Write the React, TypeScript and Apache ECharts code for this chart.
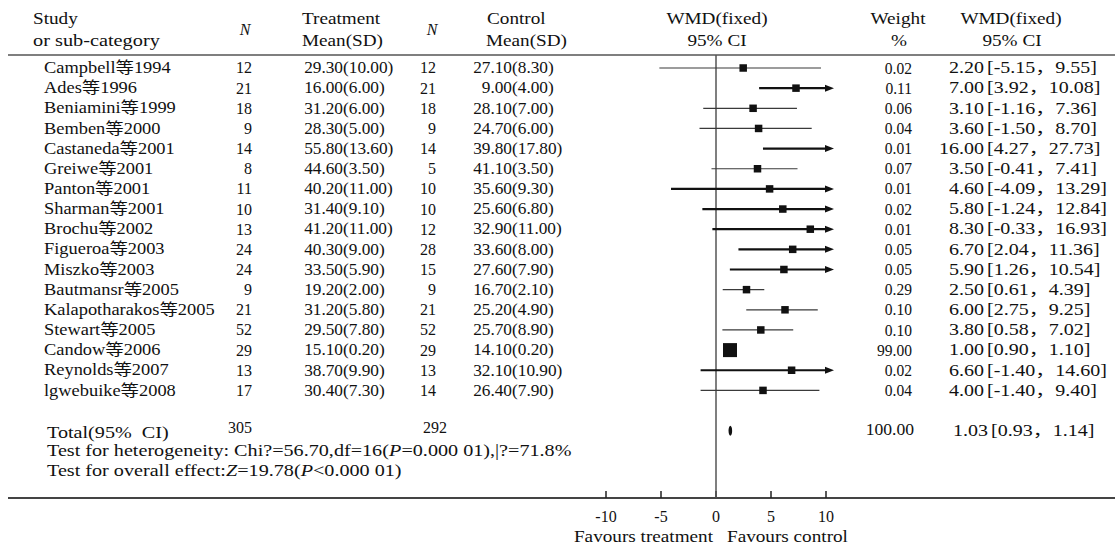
import React, { useEffect, useRef } from "react";
import * as echarts from "echarts";

const studies = [
  "Campbell等1994", "Ades等1996", "Beniamini等1999", "Bemben等2000", "Castaneda等2001",
  "Greiwe等2001", "Panton等2001", "Sharman等2001", "Brochu等2002", "Figueroa等2003",
  "Miszko等2003", "Bautmansr等2005", "Kalapotharakos等2005", "Stewart等2005",
  "Candow等2006", "Reynolds等2007", "lgwebuike等2008",
];
const nTreat = [12, 21, 18, 9, 14, 8, 11, 10, 13, 24, 24, 9, 21, 52, 29, 13, 17];
const meanTreat = [29.3, 16.0, 31.2, 28.3, 55.8, 44.6, 40.2, 31.4, 41.2, 40.3, 33.5, 19.2, 31.2, 29.5, 15.1, 38.7, 30.4];
const sdTreat = [10.0, 6.0, 6.0, 5.0, 13.6, 3.5, 11.0, 9.1, 11.0, 9.0, 5.9, 2.0, 5.8, 7.8, 0.2, 9.9, 7.3];
const nCtrl = [12, 21, 18, 9, 14, 5, 10, 10, 12, 28, 15, 9, 21, 52, 29, 13, 14];
const meanCtrl = [27.1, 9.0, 28.1, 24.7, 39.8, 41.1, 35.6, 25.6, 32.9, 33.6, 27.6, 16.7, 25.2, 25.7, 14.1, 32.1, 26.4];
const sdCtrl = [8.3, 4.0, 7.0, 6.0, 17.8, 3.5, 9.3, 6.8, 11.0, 8.0, 7.9, 2.1, 4.9, 8.9, 0.2, 10.9, 7.9];
const weights = [0.02, 0.11, 0.06, 0.04, 0.01, 0.07, 0.01, 0.02, 0.01, 0.05, 0.05, 0.29, 0.10, 0.10, 99.0, 0.02, 0.04];
const wmd = [2.2, 7.0, 3.1, 3.6, 16.0, 3.5, 4.6, 5.8, 8.3, 6.7, 5.9, 2.5, 6.0, 3.8, 1.0, 6.6, 4.0];
const ciLow = [-5.15, 3.92, -1.16, -1.5, 4.27, -0.41, -4.09, -1.24, -0.33, 2.04, 1.26, 0.61, 2.75, 0.58, 0.9, -1.4, -1.4];
const ciHigh = [9.55, 10.08, 7.36, 8.7, 27.73, 7.41, 13.29, 12.84, 16.93, 11.36, 10.54, 4.39, 9.25, 7.02, 1.1, 14.6, 9.4];

const totalLabel = "Total(95%  CI)";
const totalN = [305, 292];
const totalWeight = 100.0;
const totalWmd = [1.03, 0.93, 1.14];
const hetText = ["Test for heterogeneity: Chi?=56.70,df=16(", "P", "=0.000 01),|?=71.8%"];
const overallText = ["Test for overall effect:", "Z", "=19.78(", "P", "<0.000 01)"];
const xMin = -10;
const xMax = 10;
const xInterval = 5;
const favours = ["Favours treatment", "Favours control"];

const FAMILY = "'Liberation Serif', 'Times New Roman', 'Noto Sans CJK SC', serif";
const FS = 16;
const INK = "#111";
const SX_HEAD = 1.2;
const SX_NAME = 1.15;
const SX_NUM = 1.0;
const SX_MEAN = 1.08;
const SX_W = 0.97;
const SX_CI = 1.25;
const SX_FOOT = 1.26;
const SX_FAV = 1.2;
const font = (size: number, italic = false) => `${italic ? "italic " : ""}${size}px ${FAMILY}`;

function txt(x: number, y: number, text: string, align: string, opt: any = {}) {
  return {
    type: "text",
    x,
    y,
    scaleX: opt.sx ?? 1,
    silent: true,
    style: {
      text,
      x: 0,
      y: 0,
      fill: opt.fill ?? INK,
      font: font(opt.fs ?? FS, !!opt.italic),
      fontSize: opt.fs ?? FS,
      fontFamily: FAMILY,
      fontStyle: opt.italic ? "italic" : "normal",
      align,
      verticalAlign: "middle",
      rich: opt.rich,
    },
  };
}

const ci = (lo: number, hi: number) => `[${lo.toFixed(2)}，${hi.toFixed(2)}]`;

export default function App() {
  const ref = useRef<HTMLDivElement>(null);
  useEffect(() => {
    const chart = echarts.init(ref.current!, null, { renderer: "svg" });
    const rich = {
      i: { font: font(FS, true), fontStyle: "italic", fontFamily: FAMILY, fontSize: FS, fill: INK },
      n: { font: font(FS), fontFamily: FAMILY, fontSize: FS, fill: INK },
    };
    const option: any = {
      animation: false,
      backgroundColor: "#fff",
      textStyle: { fontFamily: FAMILY, color: INK },
      grid: { left: 606, width: 220, top: 55, height: 443 },
      xAxis: {
        type: "value",
        min: xMin,
        max: xMax,
        interval: xInterval,
        axisLine: { show: true, onZero: false, lineStyle: { color: "#444", width: 2 } },
        axisTick: { show: true, inside: true, length: 7, lineStyle: { color: "#222", width: 1.5 } },
        axisLabel: { margin: 10, fontSize: FS, color: INK, fontFamily: FAMILY },
        splitLine: { show: false },
      },
      yAxis: {
        type: "value",
        inverse: true,
        min: -0.645,
        max: 21.34,
        show: false,
      },
      graphic: [
        { type: "line", shape: { x1: 8, y1: 55, x2: 1115, y2: 55 }, style: { stroke: "#555", lineWidth: 1.5 } },
        { type: "line", shape: { x1: 8, y1: 498, x2: 1115, y2: 498 }, style: { stroke: "#444", lineWidth: 2 } },
        txt(33, 19, "Study", "left", { sx: SX_HEAD }),
        txt(33, 41, "or sub-category", "left", { sx: 1.27 }),
        txt(245, 29, "N", "center", { italic: true }),
        txt(302, 19, "Treatment", "left", { sx: SX_HEAD }),
        txt(302, 41, "Mean(SD)", "left", { sx: SX_HEAD }),
        txt(432, 29, "N", "center", { italic: true }),
        txt(487, 19, "Control", "left", { sx: SX_HEAD }),
        txt(486, 41, "Mean(SD)", "left", { sx: SX_HEAD }),
        txt(717, 19, "WMD(fixed)", "center", { sx: SX_HEAD }),
        txt(717, 41, "95% CI", "center", { sx: SX_HEAD }),
        txt(898, 19, "Weight", "center", { sx: SX_HEAD }),
        txt(899, 41, "%", "center", { sx: SX_HEAD }),
        txt(1011, 19, "WMD(fixed)", "center", { sx: SX_HEAD }),
        txt(1012, 41, "95% CI", "center", { sx: SX_HEAD }),
        txt(713, 537, favours[0], "right", { sx: SX_FAV }),
        txt(727, 537, favours[1], "left", { sx: SX_FAV }),
      ],
      series: [
        {
          type: "custom",
          clip: false,
          silent: true,
          z: 5,
          data: studies.map((_, i) => [wmd[i], i, ciLow[i], ciHigh[i]]),
          encode: { x: [0, 2, 3], y: 1 },
          renderItem: (params: any, api: any) => {
            const i = params.dataIndex;
            const y = api.coord([0, i])[1];
            const xLo = api.coord([Math.max(ciLow[i], xMin), i])[0];
            const xHi = api.coord([Math.min(ciHigh[i], xMax), i])[0];
            const arrow = ciHigh[i] > xMax;
            const children: any[] = [];
            children.push({
              type: "line",
              shape: { x1: xLo, y1: y, x2: xHi, y2: y },
              style: { stroke: arrow ? "#111" : "#3a3a3a", lineWidth: arrow ? 2.2 : 1.2 },
            });
            if (arrow) {
              children.push({
                type: "polygon",
                shape: { points: [[xHi - 1, y - 3.5], [xHi + 8, y], [xHi - 1, y + 3.5]] },
                style: { fill: "#111" },
              });
            }
            if (wmd[i] <= xMax) {
              const s = weights[i] >= 50 ? 14 : 7.5;
              const xc = api.coord([wmd[i], i])[0] + 3;
              children.push({
                type: "rect",
                shape: { x: xc - s / 2, y: y - s / 2, width: s, height: s },
                style: { fill: "#111" },
              });
            }
            children.push(txt(44, y, studies[i], "left", { sx: SX_NAME }));
            children.push(txt(252, y, String(nTreat[i]), "right", { sx: SX_NUM }));
            children.push(txt(343, y, meanTreat[i].toFixed(2), "right", { sx: SX_MEAN }));
            children.push(txt(343, y, `(${sdTreat[i].toFixed(2)})`, "left", { sx: SX_MEAN }));
            children.push(txt(436, y, String(nCtrl[i]), "right", { sx: SX_NUM }));
            children.push(txt(512, y, meanCtrl[i].toFixed(2), "right", { sx: SX_MEAN }));
            children.push(txt(512, y, `(${sdCtrl[i].toFixed(2)})`, "left", { sx: SX_MEAN }));
            children.push(txt(912, y, weights[i].toFixed(2), "right", { sx: SX_W }));
            children.push(txt(984, y, wmd[i].toFixed(2), "right", { sx: SX_CI }));
            children.push(txt(987, y, ci(ciLow[i], ciHigh[i]), "left", { sx: SX_CI }));
            return { type: "group", children };
          },
          markLine: {
            silent: true,
            symbol: ["none", "none"],
            label: { show: false },
            lineStyle: { color: "#555", width: 1.5, type: "solid" },
            data: [{ xAxis: 0 }],
          },
        },
        {
          type: "custom",
          clip: false,
          silent: true,
          z: 5,
          data: [[totalWmd[0], 18, totalWmd[1], totalWmd[2]]],
          encode: { x: [0, 2, 3], y: 1 },
          renderItem: (_p: any, api: any) => {
            const y = api.coord([0, 18])[1];
            const y2 = api.coord([0, 19])[1];
            const y3 = api.coord([0, 20])[1];
            const xc = api.coord([totalWmd[0], 18])[0] + 3;
            return {
              type: "group",
              children: [
                { type: "ellipse", shape: { cx: xc, cy: y, rx: 1.8, ry: 5 }, style: { fill: "#111" } },
                txt(47, y + 2, totalLabel, "left", { sx: SX_FOOT }),
                txt(252, y - 3, String(totalN[0]), "right", { sx: SX_NUM }),
                txt(447, y - 3, String(totalN[1]), "right", { sx: SX_NUM }),
                txt(914, y - 1, totalWeight.toFixed(2), "right", { sx: 1.1 }),
                txt(988, y, totalWmd[0].toFixed(2), "right", { sx: SX_CI }),
                txt(991, y, ci(totalWmd[1], totalWmd[2]), "left", { sx: SX_CI }),
                txt(47, y2, `{n|${hetText[0]}}{i|${hetText[1]}}{n|${hetText[2]}}`, "left", { rich, sx: SX_FOOT }),
                txt(
                  47,
                  y3,
                  `{n|${overallText[0]}}{i|${overallText[1]}}{n|${overallText[2]}}{i|${overallText[3]}}{n|${overallText[4]}}`,
                  "left",
                  { rich, sx: SX_FOOT }
                ),
              ],
            };
          },
        },
      ],
    };
    chart.setOption(option);
    return () => chart.dispose();
  }, []);
  return (
    <div
      ref={ref}
      style={{ position: "absolute", left: 0, top: 0, width: 1115, height: 545, background: "#fff" }}
    />
  );
}
